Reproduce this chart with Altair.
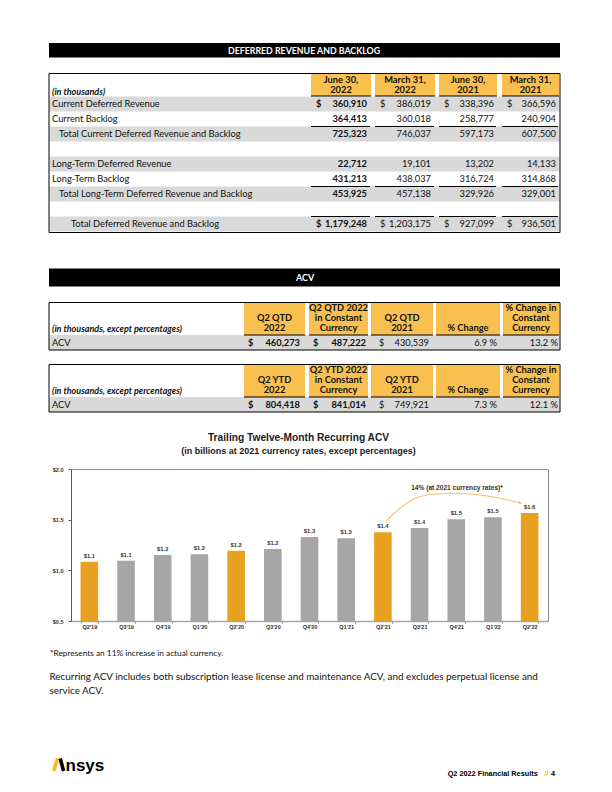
import altair as alt
import pandas as pd

# ---------------- data ----------------
dr_title = "DEFERRED REVENUE AND BACKLOG"
dr_headers = [["June 30,", "2022"], ["March 31,", "2022"], ["June 30,", "2021"], ["March 31,", "2021"]]
dr_labels = ["Current Deferred Revenue", "Current Backlog", "Total Current Deferred Revenue and Backlog", "",
             "Long-Term Deferred Revenue", "Long-Term Backlog", "Total Long-Term Deferred Revenue and Backlog", "",
             "Total Deferred Revenue and Backlog"]
dr_jun22 = [360910, 364413, 725323, None, 22712, 431213, 453925, None, 1179248]
dr_mar22 = [386019, 360018, 746037, None, 19101, 438037, 457138, None, 1203175]
dr_jun21 = [338396, 258777, 597173, None, 13202, 316724, 329926, None, 927099]
dr_mar21 = [366596, 240904, 607500, None, 14133, 314868, 329001, None, 936501]

acv_title = "ACV"
acv_qtd_headers = [["Q2 QTD", "2022"], ["Q2 QTD 2022", "in Constant", "Currency"], ["Q2 QTD", "2021"],
                   ["% Change"], ["% Change in", "Constant", "Currency"]]
acv_qtd_values = [460273, 487222, 430539, 6.9, 13.2]
acv_ytd_headers = [["Q2 YTD", "2022"], ["Q2 YTD 2022", "in Constant", "Currency"], ["Q2 YTD", "2021"],
                   ["% Change"], ["% Change in", "Constant", "Currency"]]
acv_ytd_values = [804418, 841014, 749921, 7.3, 12.1]

chart_title = "Trailing Twelve-Month Recurring ACV"
chart_subtitle = "(in billions at 2021 currency rates, except percentages)"
quarters = ["Q2'19", "Q3'19", "Q4'19", "Q1'20", "Q2'20", "Q3'20", "Q4'20",
            "Q1'21", "Q2'21", "Q3'21", "Q4'21", "Q1'22", "Q2'22"]
ttm_acv = [1.085, 1.095, 1.151, 1.158, 1.194, 1.21, 1.329, 1.316, 1.375, 1.418, 1.504, 1.524, 1.566]
arrow_note = "14% (at 2021 currency rates)*"
footnote = "*Represents an 11% increase in actual currency."
paragraph = ["Recurring ACV includes both subscription lease license and maintenance ACV, and excludes perpetual license and",
             "service ACV."]
footer = ["Q2 2022 Financial Results", "//", "4"]

# ---------------- styling / layout ----------------
TF = "Lato"
AF = "Liberation Sans"
INK = "#111111"
BLACK = "#000000"
WHITE = "#FFFFFF"
YELLOW = "#F9C04F"
ROWGRAY = "#D9D9D9"
ORANGE = "#E9A121"
BARGRAY = "#A6A6A6"
ARROW = "#F6C46C"

OX, OY = 71, 469          # page position of the bar-chart plot origin
PW, PH = 477, 152         # bar-chart plot size

texts = {}
def add(key, x, y, t, s, c=INK):
    texts.setdefault(key, []).append(dict(x=x - OX, y=y - OY, t=t, s=s, c=c))

rects, boxes, rules = [], [], []
def rect(x1, x2, y1, y2, c):
    rects.append(dict(x=x1 - OX, x2=x2 - OX, y=y1 - OY, y2=y2 - OY, c=c))
def box(x1, x2, y1, y2):
    boxes.append(dict(x=x1 - OX, x2=x2 - OX, y=y1 - OY, y2=y2 - OY))
def rule(x1, x2, y1, y2, c=BLACK, w=1.0):
    rules.append(dict(x=x1 - OX, x2=x2 - OX, y=y1 - OY, y2=y2 - OY, c=c, w=w))

L_N = ("left", "normal", "normal", TF, "middle")
L_B = ("left", "bold", "normal", TF, "middle")
L_BI = ("left", "bold", "italic", TF, "middle")
R_N = ("right", "normal", "normal", TF, "middle")
R_B = ("right", "bold", "normal", TF, "middle")
C_B = ("center", "bold", "normal", TF, "middle")
CA_B = ("center", "bold", "normal", AF, "middle")
LA_B = ("left", "bold", "normal", AF, "alphabetic")
RA_B = ("right", "bold", "normal", AF, "alphabetic")

TL, TR = 49, 560
FS = 9.3
FI = 9.0

# ---- Deferred revenue table ----
rect(TL, TR, 43, 57.5, BLACK)
add(C_B, 304, 50.5, dr_title, 8.8, WHITE)
c_l = [311, 375, 439, 502]
c_r = [371, 435, 497, 559]
d_x = [316, 380, 444, 507]
v_r = [367, 431, 494, 556]
for j, hdr in enumerate(dr_headers):
    rect(c_l[j], c_r[j], 74, 96, YELLOW)
    cx = (c_l[j] + c_r[j]) / 2
    for k, line in enumerate(hdr):
        add(C_B, cx, 80 + 10 * k, line, FS)
    rule(c_l[j], c_r[j], 96, 96)
add(L_BI, 52, 91.5, "(in thousands)", FI)
indent = [52, 52, 59, 52, 52, 52, 59, 52, 71]
cols = [dr_jun22, dr_mar22, dr_jun21, dr_mar21]
for i, lab in enumerate(dr_labels):
    top = 96.5 + 15 * i
    cy = top + 7.5
    if i % 2 == 0 and lab:
        rect(TL + 0.5, TR - 0.5, top, top + 15, ROWGRAY)
    if lab:
        add(L_N, indent[i], cy, lab, FS)
    for j, col in enumerate(cols):
        v = col[i]
        if v is None:
            continue
        key = R_B if j == 0 else R_N
        add(key, v_r[j], cy, f"{v:,}", FS)
        if i in (0, 8):
            add(L_B if j == 0 else L_N, d_x[j], cy, "$", FS)
for y in (126.5, 186.5, 216.5):
    for j in range(4):
        rule(c_l[j], c_r[j] - 1, y, y)
box(TL, TR, 73.5, 232.5)

# ---- ACV tables ----
rect(TL, TR, 268.5, 286.5, BLACK)
add(C_B, 305, 277.8, acv_title, 9.0, WHITE)
a_l = [244, 309, 371, 436, 503]
a_r = [305, 368, 433, 500, 559]
a_d = [248, 313, 379]
a_v = [300, 366, 429, 497, 558]
for t, (hdrs, vals) in enumerate([(acv_qtd_headers, acv_qtd_values), (acv_ytd_headers, acv_ytd_values)]):
    top = 302.5 + 62 * t
    hb = top + 32.5
    rb = hb + 15
    rect(TL + 0.5, TR - 0.5, hb, rb, ROWGRAY)
    add(L_BI, 52, hb - 6, "(in thousands, except percentages)", FI)
    add(L_N, 52, hb + 7.5, "ACV", FS)
    for j, hdr in enumerate(hdrs):
        rect(a_l[j], a_r[j], top + 0.5, hb, YELLOW)
        cx = (a_l[j] + a_r[j]) / 2
        n = len(hdr)
        for k, line in enumerate(hdr):
            add(C_B, cx, hb - 7 - 9.8 * (n - 1 - k), line, FS)
        rule(a_l[j], a_r[j], hb, hb)
        v = vals[j]
        key = R_B if j < 2 else R_N
        if j < 3:
            add(key, a_v[j], hb + 7.5, f"{v:,}", FS)
            add(L_B if j < 2 else L_N, a_d[j], hb + 7.5, "$", FS)
        else:
            add(key, a_v[j], hb + 7.5, f"{v:.1f} %", FS)
    box(TL, TR, top, rb)

# ---- chart titles and annotation ----
add(CA_B, 298.5, 438, chart_title, 10.2, "#1a1a1a")
add(CA_B, 298.5, 451, chart_subtitle, 9.0, "#1a1a1a")
add(CA_B, 457, 488, arrow_note, 6.6, "#333333")

# ---- footnotes ----
add(L_N, 50, 654, footnote, 8.3, INK)
add(L_N, 49.5, 677.3, paragraph[0], 9.9, INK)
add(L_N, 49.5, 690.7, paragraph[1], 9.9, INK)

# ---- logo and footer ----
rule(53.6, 57.6, 771, 758.5, "#FFB81C", 3.6)
rule(60.2, 63.6, 758.5, 771, BLACK, 3.6)
add(LA_B, 65.5, 771, "nsys", 17, BLACK)
add(RA_B, 537.7, 776, footer[0], 7.3, BLACK)
add(RA_B, 548.3, 776, footer[1], 7.3, "#FFB81C")
add(RA_B, 555, 776, footer[2], 7.3, BLACK)

# arrow path (annotation, page coordinates)
arrow_pts = [(386, 521), (400, 508.3), (415, 498.5), (433, 494.3), (457, 493.3),
             (480, 495), (500, 498.3), (519, 502.6)]
arrow_df = pd.DataFrame([dict(o=i, x=a - OX, y=b - OY) for i, (a, b) in enumerate(arrow_pts)])
head_df = pd.DataFrame([dict(x=520.5 - OX, y=503.0 - OY)])

# ---------------- charts ----------------
IX = lambda f="x": alt.X(f"{f}:Q", scale=None, axis=None)
IY = lambda f="y": alt.Y(f"{f}:Q", scale=None, axis=None)

layers = []
layers.append(alt.Chart(pd.DataFrame(rects)).mark_rect().encode(
    x=IX(), x2="x2:Q", y=IY(), y2="y2:Q", color=alt.Color("c:N", scale=None, legend=None)))
layers.append(alt.Chart(pd.DataFrame(rules)).mark_rule(strokeCap="butt").encode(
    x=IX(), x2="x2:Q", y=IY(), y2="y2:Q",
    color=alt.Color("c:N", scale=None, legend=None),
    strokeWidth=alt.StrokeWidth("w:Q", scale=None, legend=None)))
layers.append(alt.Chart(pd.DataFrame(boxes)).mark_rect(fillOpacity=0, stroke=BLACK, strokeWidth=1).encode(
    x=IX(), x2="x2:Q", y=IY(), y2="y2:Q"))
for (align, weight, style, font, base), rows in texts.items():
    layers.append(alt.Chart(pd.DataFrame(rows)).mark_text(
        align=align, baseline=base, fontWeight=weight, fontStyle=style, font=font).encode(
        x=IX(), y=IY(), text="t:N",
        size=alt.Size("s:Q", scale=None, legend=None),
        color=alt.Color("c:N", scale=None, legend=None)))
layers.append(alt.Chart(arrow_df).mark_line(interpolate="monotone", color=ARROW, strokeWidth=1.1).encode(
    x=IX(), y=IY(), order="o:Q"))
layers.append(alt.Chart(head_df).mark_point(shape="triangle-right", angle=13, filled=True, size=16,
                                            color=ARROW, opacity=1).encode(x=IX(), y=IY()))

bar_df = pd.DataFrame({"q": quarters, "v": ttm_acv,
                       "k": ["Q2" if q.startswith("Q2") else "other" for q in quarters]})
xb = alt.X("q:N", sort=quarters,
           scale=alt.Scale(paddingInner=0.52, paddingOuter=0.26),
           axis=alt.Axis(title=None, labelAngle=0, labelFont=AF, labelFontWeight="bold", labelFontSize=5.5,
                         labelColor="#333333", domainColor="#A6A6A6", domainWidth=1.5, tickColor="#777777",
                         tickSize=2, tickBand="extent", labelPadding=1.5, grid=False))
yb = alt.Y("v:Q", scale=alt.Scale(domain=[0.5, 2.0], nice=False, zero=False),
           axis=alt.Axis(title=None, values=[0.5, 1.0, 1.5, 2.0], format="$.1f", labelFont=AF,
                         labelFontWeight="bold", labelFontSize=5.5, labelColor="#333333",
                         domainColor="#595959", tickColor="#595959", tickSize=3, labelPadding=5, grid=False))
base = alt.Chart(bar_df).encode(x=xb, y=yb)
bars = base.mark_bar().encode(
    y2=alt.datum(0.5),
    color=alt.Color("k:N", scale=alt.Scale(domain=["Q2", "other"], range=[ORANGE, BARGRAY]), legend=None))
labels = base.mark_text(baseline="bottom", dy=-3, font=AF, fontWeight="bold", fontSize=5.8, color="#333333").encode(
    text=alt.Text("v:Q", format="$.1f"))
bar_chart = alt.layer(bars, labels)

chart = alt.layer(bar_chart, *layers).resolve_scale(
    x="independent", y="independent", color="independent", size="independent", strokeWidth="independent"
).properties(
    width=PW, height=PH,
    padding={"left": OX - 8, "top": OY - 8, "right": 596 - (OX - 8) - PW, "bottom": 773 - (OY - 8) - PH},
    autosize=alt.AutoSizeParams(type="none"),
).configure_view(stroke="#8C8C8C", strokeWidth=1)

chart.save("out.html", embed_options={"renderer": "svg", "actions": False})
